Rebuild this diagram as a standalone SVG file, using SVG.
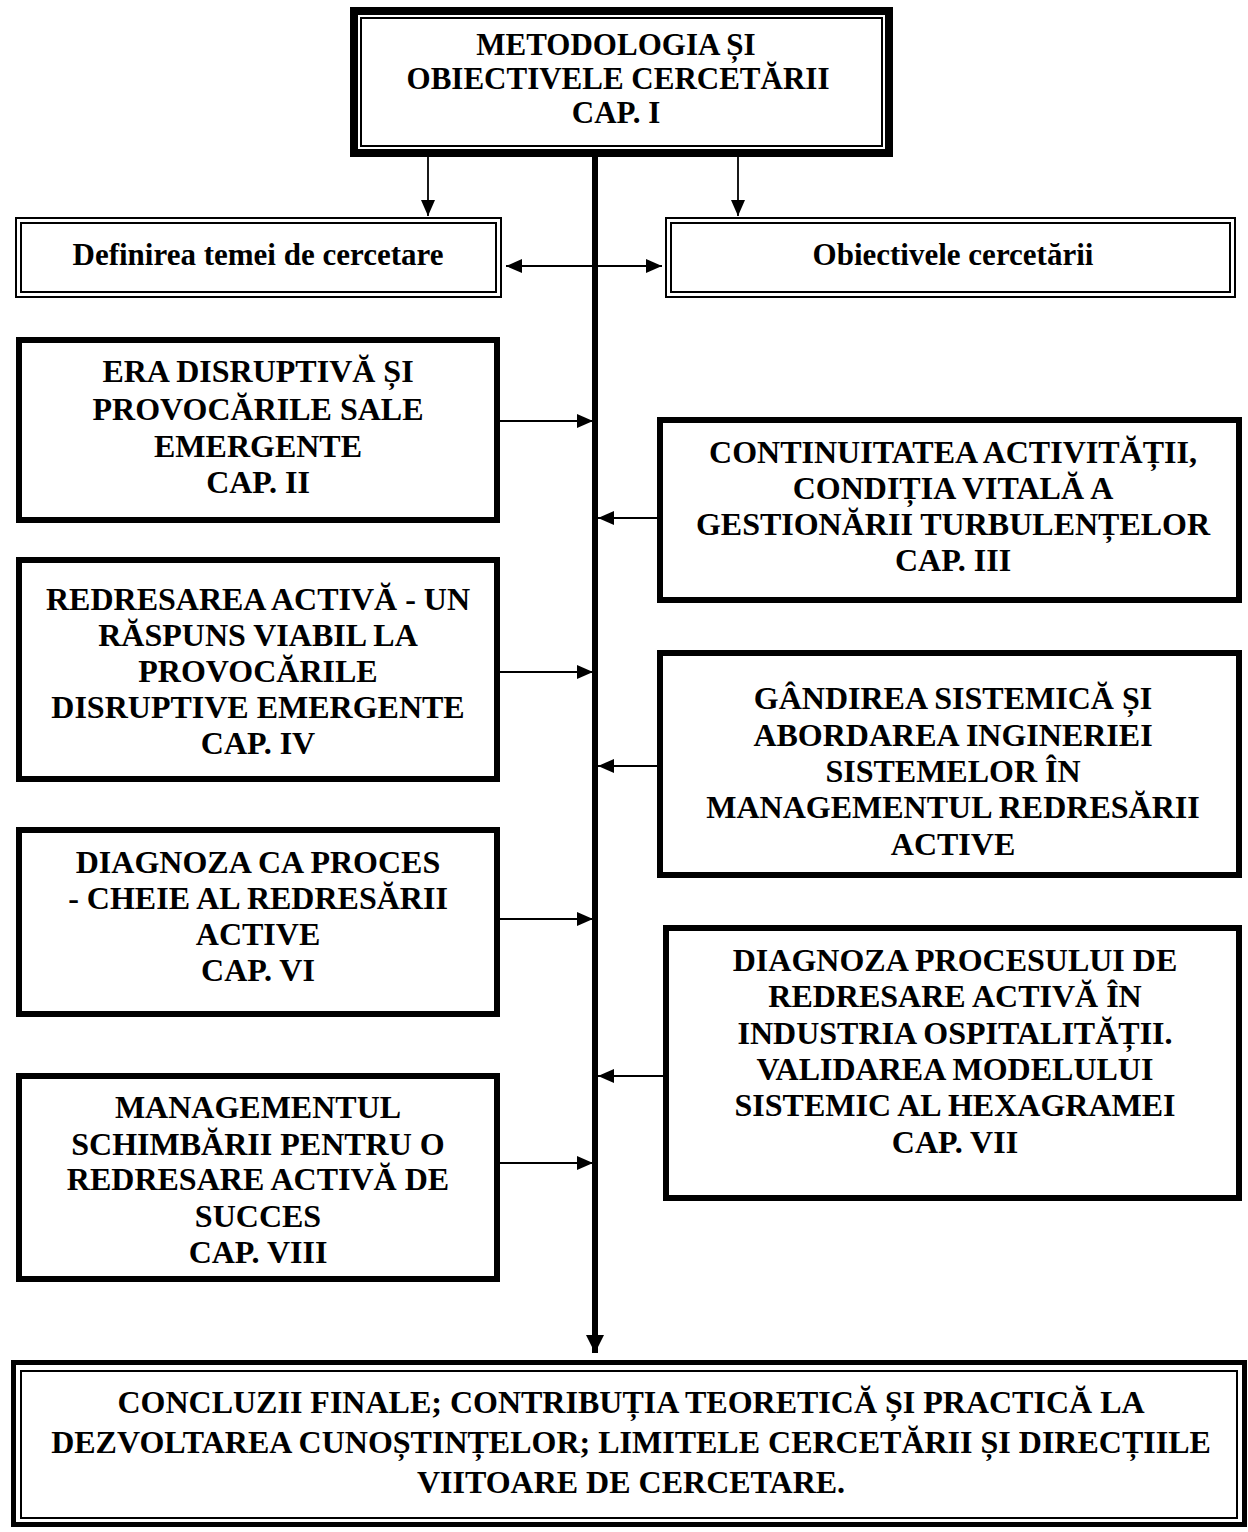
<svg xmlns="http://www.w3.org/2000/svg" width="1248" height="1532" viewBox="0 0 1248 1532">
<defs>
<style>
text{font-family:"Liberation Serif","Times New Roman",serif;font-weight:bold;fill:#000;text-anchor:middle;font-size:32px}
.box{fill:#fff;stroke:#000;stroke-width:6}
.thin{fill:none;stroke:#000;stroke-width:2}
.ln{stroke:#000;stroke-width:1.8;fill:none}
</style>
<marker id="ah" viewBox="0 0 16 14" refX="16" refY="7" markerWidth="16" markerHeight="14" markerUnits="userSpaceOnUse" orient="auto-start-reverse">
<path d="M0,0 L16,7 L0,14 Z" fill="#000"/>
</marker>
<marker id="ahb" viewBox="0 0 18 18" refX="18" refY="9" markerWidth="18" markerHeight="18" markerUnits="userSpaceOnUse" orient="auto">
<path d="M0,0 L18,9 L0,18 Z" fill="#000"/>
</marker>
</defs>
<rect width="1248" height="1532" fill="#fff"/>

<g id="connectors">
<line x1="595" y1="150" x2="595" y2="1353" stroke="#000" stroke-width="6" marker-end="url(#ahb)"/>
<line class="ln" x1="428" y1="150" x2="428" y2="216" marker-end="url(#ah)"/>
<line class="ln" x1="738" y1="150" x2="738" y2="216" marker-end="url(#ah)"/>
<line class="ln" x1="506" y1="266" x2="662" y2="266" marker-start="url(#ah)" marker-end="url(#ah)"/>
<line class="ln" x1="500" y1="421" x2="593" y2="421" marker-end="url(#ah)"/>
<line class="ln" x1="500" y1="672" x2="593" y2="672" marker-end="url(#ah)"/>
<line class="ln" x1="500" y1="919" x2="593" y2="919" marker-end="url(#ah)"/>
<line class="ln" x1="500" y1="1163" x2="593" y2="1163" marker-end="url(#ah)"/>
<line class="ln" x1="658" y1="518" x2="598" y2="518" marker-end="url(#ah)"/>
<line class="ln" x1="658" y1="766" x2="598" y2="766" marker-end="url(#ah)"/>
<line class="ln" x1="663" y1="1076" x2="598" y2="1076" marker-end="url(#ah)"/>
</g>

<g id="n_cap1">
<rect x="354" y="11" width="535" height="142" fill="#fff" stroke="#000" stroke-width="8"/>
<rect class="thin" x="361" y="18" width="521" height="128"/>
<text x="616" y="55" style="font-size:31px">METODOLOGIA ȘI</text>
<text x="618" y="89" style="font-size:31px">OBIECTIVELE CERCETĂRII</text>
<text x="616" y="123" style="font-size:31px">CAP. I</text>
</g>

<g id="n_definirea">
<rect x="16" y="218" width="485" height="79" fill="#fff" stroke="#000" stroke-width="2"/>
<rect class="thin" x="21" y="223" width="475" height="69"/>
<text x="258" y="265" style="font-size:31px">Definirea temei de cercetare</text>
</g>

<g id="n_obiectivele">
<rect x="666" y="218" width="569" height="79" fill="#fff" stroke="#000" stroke-width="2"/>
<rect class="thin" x="671" y="223" width="559" height="69"/>
<text x="953" y="265" style="font-size:31px">Obiectivele cercetării</text>
</g>

<g id="n_cap2">
<rect class="box" x="19" y="340" width="478" height="180"/>
<text x="258" y="382">ERA DISRUPTIVĂ ȘI</text>
<text x="258" y="420">PROVOCĂRILE SALE</text>
<text x="258" y="457">EMERGENTE</text>
<text x="258" y="493">CAP. II</text>
</g>

<g id="n_cap3">
<rect class="box" x="660" y="420" width="579" height="180"/>
<text x="953" y="463">CONTINUITATEA ACTIVITĂȚII,</text>
<text x="953" y="499">CONDIȚIA VITALĂ A</text>
<text x="953" y="535">GESTIONĂRII TURBULENȚELOR</text>
<text x="953" y="571">CAP. III</text>
</g>

<g id="n_cap4">
<rect class="box" x="19" y="560" width="478" height="219"/>
<text x="258" y="610">REDRESAREA ACTIVĂ - UN</text>
<text x="258" y="646">RĂSPUNS VIABIL LA</text>
<text x="258" y="682">PROVOCĂRILE</text>
<text x="258" y="718">DISRUPTIVE EMERGENTE</text>
<text x="258" y="754">CAP. IV</text>
</g>

<g id="n_cap5">
<rect class="box" x="660" y="653" width="579" height="222"/>
<text x="953" y="709">GÂNDIREA SISTEMICĂ ȘI</text>
<text x="953" y="746">ABORDAREA INGINERIEI</text>
<text x="953" y="782">SISTEMELOR ÎN</text>
<text x="953" y="818">MANAGEMENTUL REDRESĂRII</text>
<text x="953" y="855">ACTIVE</text>
</g>

<g id="n_cap6">
<rect class="box" x="19" y="830" width="478" height="184"/>
<text x="258" y="873">DIAGNOZA CA PROCES</text>
<text x="258" y="909">- CHEIE AL REDRESĂRII</text>
<text x="258" y="945">ACTIVE</text>
<text x="258" y="981">CAP. VI</text>
</g>

<g id="n_cap7">
<rect class="box" x="666" y="928" width="573" height="270"/>
<text x="955" y="971">DIAGNOZA PROCESULUI DE</text>
<text x="955" y="1007">REDRESARE ACTIVĂ ÎN</text>
<text x="955" y="1044">INDUSTRIA OSPITALITĂȚII.</text>
<text x="955" y="1080">VALIDAREA MODELULUI</text>
<text x="955" y="1116">SISTEMIC AL HEXAGRAMEI</text>
<text x="955" y="1153">CAP. VII</text>
</g>

<g id="n_cap8">
<rect class="box" x="19" y="1076" width="478" height="203"/>
<text x="258" y="1118">MANAGEMENTUL</text>
<text x="258" y="1155">SCHIMBĂRII PENTRU O</text>
<text x="258" y="1190">REDRESARE ACTIVĂ DE</text>
<text x="258" y="1227">SUCCES</text>
<text x="258" y="1263">CAP. VIII</text>
</g>

<g id="n_concluzii">
<rect x="13.5" y="1362.5" width="1231" height="162" fill="#fff" stroke="#000" stroke-width="5"/>
<rect class="thin" x="21" y="1371" width="1216" height="147"/>
<text x="631" y="1413">CONCLUZII FINALE; CONTRIBUȚIA TEORETICĂ ȘI PRACTICĂ LA</text>
<text x="631" y="1453">DEZVOLTAREA CUNOȘTINȚELOR; LIMITELE CERCETĂRII ȘI DIRECȚIILE</text>
<text x="631" y="1493">VIITOARE DE CERCETARE.</text>
</g>
</svg>
